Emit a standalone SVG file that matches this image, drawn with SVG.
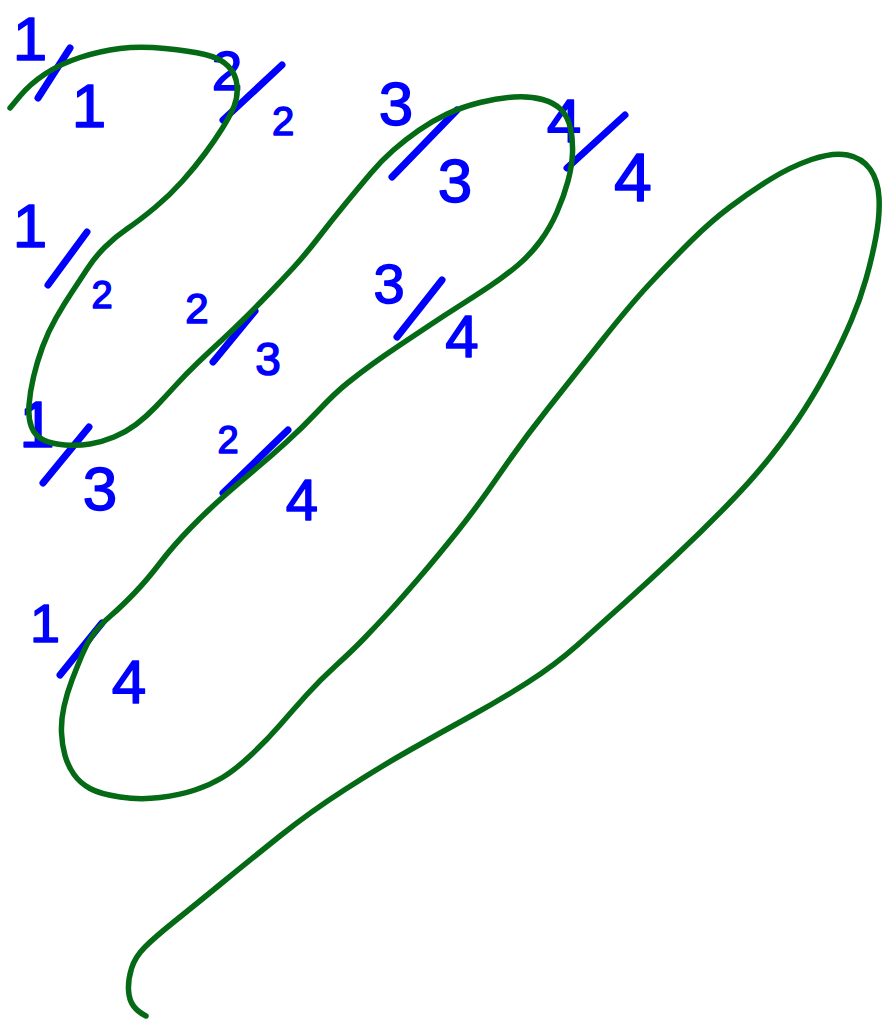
<svg xmlns="http://www.w3.org/2000/svg" width="883" height="1021" viewBox="0 0 883 1021">
<style>
.d{font-family:"Liberation Sans","DejaVu Sans",sans-serif;fill:#0000ff;stroke:#0000ff;stroke-width:1.5;stroke-linejoin:round;text-anchor:middle}
.s{stroke:#0000ff;stroke-width:7;stroke-linecap:round;fill:none}
.c{stroke:#046a16;stroke-width:5.5;fill:none;stroke-linecap:round;stroke-linejoin:round}
</style>
<rect width="883" height="1021" fill="#ffffff"/>
<g id="f11"><text class="d" x="30" y="60" font-size="62">1</text><line class="s" x1="70" y1="48" x2="38" y2="98"/><text class="d" x="89" y="127" font-size="62">1</text></g>
<g id="f22"><text class="d" x="227" y="90" font-size="55">2</text><line class="s" x1="282" y1="65" x2="223" y2="120"/><text class="d" x="283" y="135" font-size="40">2</text></g>
<g id="f33"><text class="d" x="396" y="125" font-size="62">3</text><line class="s" x1="457" y1="110" x2="392" y2="177"/><text class="d" x="455" y="202" font-size="62">3</text></g>
<g id="f44"><text class="d" x="564" y="142" font-size="62">4</text><line class="s" x1="625" y1="115" x2="567" y2="168"/><text class="d" x="633" y="201" font-size="68">4</text></g>
<g id="f12"><text class="d" x="30" y="247" font-size="62">1</text><line class="s" x1="87" y1="232" x2="48" y2="285"/><text class="d" x="102" y="308" font-size="38">2</text></g>
<g id="f23"><text class="d" x="197" y="323" font-size="42">2</text><line class="s" x1="255" y1="311" x2="213" y2="362"/><text class="d" x="268" y="375" font-size="46">3</text></g>
<g id="f13"><text class="d" x="37" y="447" font-size="64">1</text><line class="s" x1="89" y1="427" x2="43" y2="483"/><text class="d" x="100" y="510" font-size="62">3</text></g>
<g id="f24"><text class="d" x="228" y="453" font-size="38">2</text><line class="s" x1="288" y1="430" x2="223" y2="493"/><text class="d" x="302" y="520" font-size="58">4</text></g>
<g id="f34"><text class="d" x="389" y="303" font-size="56">3</text><line class="s" x1="442" y1="280" x2="397" y2="337"/><text class="d" x="462" y="357" font-size="60">4</text></g>
<g id="f14"><text class="d" x="45" y="642" font-size="54">1</text><line class="s" x1="102" y1="623" x2="60" y2="675"/><text class="d" x="129" y="703" font-size="62">4</text></g>
<g id="connectors">
<path class="c" d="M10,108 L20,96 Q30,84 45,74 Q60,64 80,57.5 Q100,51 120,48.5 Q140,46 165,48.5 Q190,51 205,54.5 Q220,58 228,66 Q236,74 237,85.5 Q238,97 234,106.5 Q230,116 222.5,128 Q215,140 205,153.5 Q195,167 182.5,181 Q170,195 155,207.5 Q140,220 127.5,228.5 Q115,237 105,247 Q95,257 87.5,268.5 Q80,280 72,292 Q64,304 56,318 Q48,332 42.5,347 Q37,362 33.5,377 Q30,392 29,405 Q28,418 31.5,427 Q35,436 43.5,440 Q52,444 65,445 Q78,446 90,444 Q102,442 114,437 Q126,432 136,424.5 Q146,417 156,406.5 Q166,396 176,385 Q186,374 198,362.5 Q210,351 222.5,339.5 Q235,328 246.5,316.5 Q258,305 270,292.5 Q282,280 293.5,267.5 Q305,255 318.5,237.5 Q332,220 346,203 Q360,186 371,173 Q382,160 393.5,150 Q405,140 418.5,130.5 Q432,121 447,114 Q462,107 480,102.5 Q498,98 514,97 Q530,96 542.5,99.5 Q555,103 561.5,110 Q568,117 570.5,128.5 Q573,140 572.5,153 Q572,166 568,181 Q564,196 557,212 Q550,228 540,241.5 Q530,255 517.5,265.5 Q505,276 490,286 Q475,296 460,305.5 Q445,315 430,325 Q415,335 400,345 Q385,355 372.5,364 Q360,373 347.5,383 Q335,393 319,410 Q303,427 286.5,442 Q270,457 255,469.5 Q240,482 223.5,496.5 Q207,511 190,528.5 Q173,546 160,563 Q147,580 134.5,593 Q122,606 111,615.5 Q100,625 93.5,634 Q87,643 82,655 Q77,667 72,680 Q67,693 64,706.5 Q61,720 61.5,732.5 Q62,745 65,755.5 Q68,766 74,774.5 Q80,783 90,788.5 Q100,794 120,797 Q140,800 160,797.5 Q180,795 195,790 Q210,785 222.5,777.5 Q235,770 251,755 Q267,740 280,725 Q293,710 306.5,695 Q320,680 336.5,665 Q353,650 365,637.5 Q377,625 388.5,612.5 Q400,600 418.5,578.5 Q437,557 457,532 Q477,507 500,473.5 Q523,440 548,408.5 Q573,377 601.5,341 Q630,305 650,283.5 Q670,262 690,242 Q710,222 730,207 Q750,192 770,179.5 Q790,167 811.5,159.5 Q833,152 847.5,155 Q862,158 870,169 Q878,180 879,197.5 Q880,215 876,236.5 Q872,258 866,279 Q860,300 851.5,320 Q843,340 831.5,362.5 Q820,385 805,408.5 Q790,432 771,456 Q752,480 726,506.5 Q700,533 675,556.5 Q650,580 625,602.5 Q600,625 577.5,645 Q555,665 527.5,682.5 Q500,700 470,716.5 Q440,733 410,750 Q380,767 345,789.5 Q310,812 280,836 Q250,860 222.5,882.5 Q195,905 175,921 Q155,937 145,947 Q135,957 131.5,968.5 Q128,980 128.5,990 Q129,1000 133.5,1006 Q138,1012 146,1016"/>
</g>
</svg>
